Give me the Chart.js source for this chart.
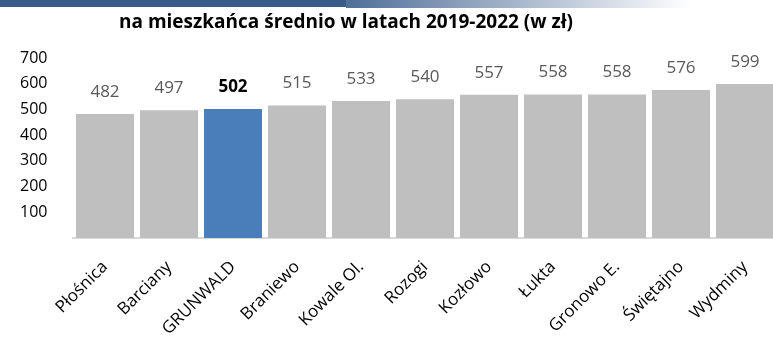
<!DOCTYPE html>
<html lang="pl">
<head>
<meta charset="utf-8">
<title>Wydatki na mieszkańca</title>
<script src="https://cdn.jsdelivr.net/npm/chart.js@4/dist/chart.umd.min.js"></script>
<style>
  html, body { margin: 0; padding: 0; background: #fff; overflow: hidden; }
  #wrap { width: 780px; height: 342px; }
</style>
</head>
<body>
<div id="wrap"><canvas id="chart" width="780" height="342"></canvas></div>
<script>
// Gminy, uporządkowane rosnąco
const gminy = ['Płośnica', 'Barciany', 'GRUNWALD', 'Braniewo', 'Kowale Ol.', 'Rozogi',
               'Kozłowo', 'Łukta', 'Gronowo E.', 'Świętajno', 'Wydminy'];
// Kwota na mieszkańca (zł), średnia 2019-2022
const kwoty = [482, 497, 502, 515, 533, 540, 557, 558, 558, 576, 599];
// Wyróżniona gmina
const wyrozniona = 'GRUNWALD';
const tytul = 'na mieszkańca średnio w latach 2019-2022 (w zł)';
const osY = { min: 0, max: 700, krok: 100 };

const SZARY = '#bfbfbf';
const NIEBIESKI = '#4a7ebb';
const FONT = '"Open Sans", "Noto Sans", sans-serif';

// Pasek i tytuł w nagłówku
const naglowek = {
  id: 'naglowek',
  beforeDraw(chart) {
    const ctx = chart.ctx;
    ctx.save();
    ctx.fillStyle = '#385d8a';
    ctx.fillRect(0, 0, 346, 7);
    const g = ctx.createLinearGradient(346, 0, 692, 0);
    g.addColorStop(0, '#4f6f98');
    g.addColorStop(1, 'rgba(255,255,255,1)');
    ctx.fillStyle = g;
    ctx.fillRect(346, 0, 346, 8);

    ctx.font = 'bold 19px ' + FONT;
    ctx.fillStyle = '#000';
    ctx.textAlign = 'center';
    ctx.textBaseline = 'alphabetic';
    ctx.fillText(tytul, 346, 28);
    ctx.restore();
  }
};

// Wartości nad słupkami
const etykiety = {
  id: 'etykiety',
  afterDatasetsDraw(chart) {
    const ctx = chart.ctx;
    const meta = chart.getDatasetMeta(0);
    ctx.save();
    ctx.textAlign = 'center';
    ctx.textBaseline = 'middle';
    meta.data.forEach((bar, i) => {
      const wyr = gminy[i] === wyrozniona;
      ctx.font = (wyr ? 'bold ' : '') + '17px ' + FONT;
      ctx.fillStyle = wyr ? '#000000' : '#595959';
      ctx.fillText(String(kwoty[i]), bar.x, bar.y - 22);
    });
    ctx.restore();
  }
};

new Chart(document.getElementById('chart'), {
  type: 'bar',
  data: {
    labels: gminy,
    datasets: [{
      data: kwoty,
      backgroundColor: gminy.map(g => g === wyrozniona ? NIEBIESKI : SZARY),
      borderWidth: 0,
      barPercentage: 0.906,
      categoryPercentage: 1.0
    }]
  },
  options: {
    responsive: false,
    animation: false,
    layout: { padding: { left: 20, right: 3, top: 58, bottom: 0 } },
    plugins: {
      legend: { display: false },
      tooltip: { enabled: false },
      title: { display: false }
    },
    scales: {
      x: {
        grid: { display: false },
        border: { display: true, color: '#d9d9d9', width: 2 },
        ticks: {
          color: '#000',
          font: { family: FONT, size: 17 },
          minRotation: 45,
          maxRotation: 45,
          autoSkip: false,
          padding: 11
        },
        afterFit(scale) { scale.height = 104; }
      },
      y: {
        min: osY.min,
        max: osY.max,
        grid: { display: false },
        border: { display: false },
        ticks: {
          stepSize: osY.krok,
          color: '#000',
          crossAlign: 'far',
          font: { family: FONT, size: 16 },
          callback: v => v === 0 ? '' : v
        },
        afterFit(scale) { scale.width = 53; }
      }
    }
  },
  plugins: [naglowek, etykiety]
});
</script>
</body>
</html>
